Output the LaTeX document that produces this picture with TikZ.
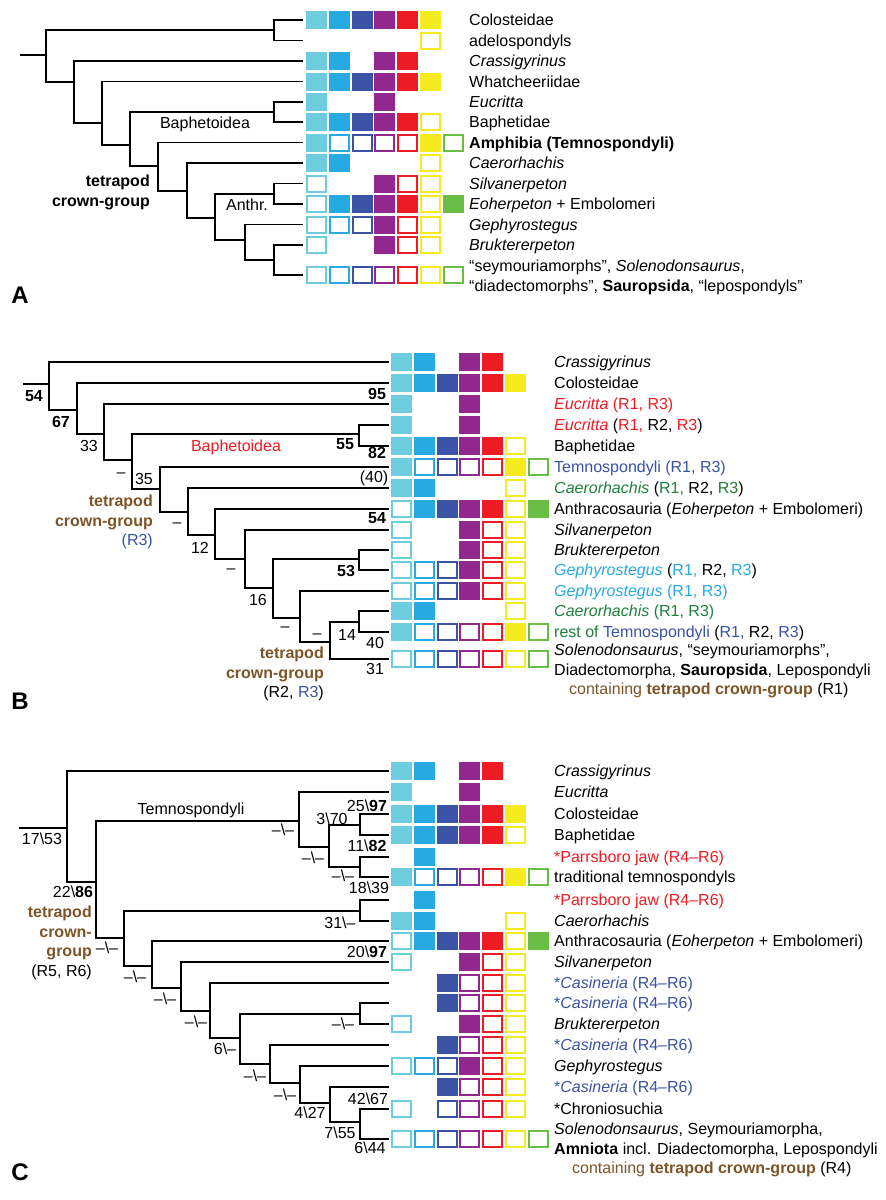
\documentclass[tikz,border=0pt]{standalone}
\usepackage{fontspec}
\setmainfont{Liberation Sans}

% character colours (columns of the matrix)
\definecolor{tr1}{HTML}{6DCCDD}
\definecolor{tr2}{HTML}{27AAE1}
\definecolor{tr3}{HTML}{3A53A4}
\definecolor{tr4}{HTML}{92278F}
\definecolor{tr5}{HTML}{ED1C24}
\definecolor{tr6}{HTML}{F5EB1E}
\definecolor{tr7}{HTML}{6ABD45}
% text colours
\definecolor{tred}{HTML}{ED1C24}
\definecolor{tblue}{HTML}{3A53A4}
\definecolor{tcyan}{HTML}{27AAE1}
\definecolor{tgreen}{HTML}{1F7F3D}
\definecolor{crown}{HTML}{7D5426}

\newcommand{\labfont}{\fontsize{16}{19.5}\selectfont}
\newcommand{\bsl}{\textbackslash}
\newcommand{\nosup}{--\textbackslash--}

% one row of the matrix: 0 = absent, 1 = filled, 2 = open
\newcommand{\traitrow}[3]{%
  \foreach \st [count=\ci] in {#3} {
    \ifnum\st=1 \fill[fill=tr\ci] ({#1+(\ci-1)*22.8},{#2-9}) rectangle ++(21,18);\fi
    \ifnum\st=2 \draw[draw=tr\ci, line width=2pt] ({#1+(\ci-1)*22.8+1},{#2-8}) rectangle ++(19,16);\fi
  }}

\begin{document}
\begin{tikzpicture}[
    x=1pt, y=-1pt,
    branch/.style={line width=1.7pt},
    taxon/.style={anchor=west, inner sep=0pt, font=\labfont, text height=11.4pt, text depth=0pt},
    multi/.style={anchor=north west, inner sep=0pt, font=\labfont, align=left},
    num/.style={inner sep=0pt, font=\labfont, text height=11.4pt, text depth=0pt},
    bnum/.style={num, font=\labfont\bfseries},
    clade/.style={anchor=north east, inner sep=0pt, font=\labfont\bfseries, text=crown, align=right},
    panel/.style={inner sep=0pt, font=\fontsize{24}{24}\selectfont\bfseries, text height=17.2pt, text depth=0pt}
]
\path[use as bounding box, fill=white] (0,0) rectangle (886,1200);

%%%%%%%%%%%%%%%% Panel A %%%%%%%%%%%%%%%%

% Tips
\foreach \t/\y in {aColo/20, aAdelo/40.5, aCrass/61, aWhat/81.5, aEucr/102, aBaph/122,
  aAmph/142.5, aCaer/163, aSilv/183.5, aEoh/204, aGeph/224.5, aBruk/245, aSeym/275}
  \coordinate (\t) at (303,\y);

% Internal nodes
\coordinate (aroot) at (20,55);
\coordinate (an1) at (46,55);
\coordinate (an2) at (274,30);
\coordinate (an3) at (74,82);
\coordinate (an4) at (102,123);
\coordinate (an5) at (130,145);
\coordinate (an6) at (274,112);
\coordinate (an7) at (158,166);
\coordinate (an8) at (187,191);
\coordinate (an9) at (215,218);
\coordinate (an10) at (274,194);
\coordinate (an11) at (245,240);
\coordinate (an12) at (274,260);

% Branches
\draw[branch] (aroot) -- (an1);
\draw[branch] (an1) |- (an2) (an1) |- (an3);
\draw[branch] (an2) |- (aColo) (an2) |- (aAdelo);
\draw[branch] (an3) |- (aCrass) (an3) |- (an4);
\draw[branch] (an4) |- (aWhat) (an4) |- (an5);
\draw[branch] (an5) |- (an6) (an5) |- (an7);
\draw[branch] (an6) |- (aEucr) (an6) |- (aBaph);
\draw[branch] (an7) |- (aAmph) (an7) |- (an8);
\draw[branch] (an8) |- (aCaer) (an8) |- (an9);
\draw[branch] (an9) |- (an10) (an9) |- (an11);
\draw[branch] (an10) |- (aSilv) (an10) |- (aEoh);
\draw[branch] (an11) |- (aGeph) (an11) |- (an12);
\draw[branch] (an12) |- (aBruk) (an12) |- (aSeym);

% Clade names
\node[num] (aBaphetoidea) at (205,123) {Baphetoidea};
\node[clade, text=black] (aCrown) at (150,175) {tetrapod\\crown-group};
\node[num] (aAnthr) at (247,205) {Anthr.};

% Matrix
\traitrow{306}{20}{1,1,1,1,1,1}
\traitrow{306}{40.5}{0,0,0,0,0,2}
\traitrow{306}{61}{1,1,0,1,1}
\traitrow{306}{81.5}{1,1,1,1,1,1}
\traitrow{306}{102}{1,0,0,1}
\traitrow{306}{122}{1,1,1,1,1,2}
\traitrow{306}{142.5}{1,2,2,2,2,1,2}
\traitrow{306}{163}{1,1,0,0,0,2}
\traitrow{306}{183.5}{2,0,0,1,2,2}
\traitrow{306}{204}{2,1,1,1,1,2,1}
\traitrow{306}{224.5}{2,2,2,1,2,2}
\traitrow{306}{245}{2,0,0,1,2,2}
\traitrow{306}{275}{2,2,2,2,2,2,2}

% Taxa
\node[taxon] (aColoL) at (469,20) {Colosteidae};
\node[taxon] (aAdeloL) at (469,40.5) {adelospondyls};
\node[taxon] (aCrassL) at (469,61) {\textit{Crassigyrinus}};
\node[taxon] (aWhatL) at (469,81.5) {Whatcheeriidae};
\node[taxon] (aEucrL) at (469,102) {\textit{Eucritta}};
\node[taxon] (aBaphL) at (469,122) {Baphetidae};
\node[taxon] (aAmphL) at (469,142.5) {\textbf{Amphibia (Temnospondyli)}};
\node[taxon] (aCaerL) at (469,163) {\textit{Caerorhachis}};
\node[taxon] (aSilvL) at (469,183.5) {\textit{Silvanerpeton}};
\node[taxon] (aEohL) at (469,204) {\textit{Eoherpeton} + Embolomeri};
\node[taxon] (aGephL) at (469,224.5) {\textit{Gephyrostegus}};
\node[taxon] (aBrukL) at (469,245) {\textit{Bruktererpeton}};
\node[multi] (aSeymL) at (469,260) {“seymouriamorphs”, \textit{Solenodonsaurus},\\“diadectomorphs”, \textbf{Sauropsida}, “lepospondyls”};

\node[panel] (aPanel) at (20,295) {A};

%%%%%%%%%%%%%%%% Panel B %%%%%%%%%%%%%%%%

% Tips
\foreach \t/\y in {bCrass/362, bColo/383, bEucrA/404, bEucrB/425, bBaph/446, bTemno/467,
  bCaerA/488, bAnth/509, bSilv/530, bBruk/550, bGephA/570, bGephB/591, bCaerB/611,
  bRest/632, bSolen/659}
  \coordinate (\t) at (389,\y);

% Internal nodes
\coordinate (broot) at (23,384);
\coordinate (bn1) at (49,384);
\coordinate (bn2) at (77,410);
\coordinate (bn3) at (104,434);
\coordinate (bn4) at (132,460);
\coordinate (bn5) at (359,434);
\coordinate (bn6) at (160,489);
\coordinate (bn7) at (188,512);
\coordinate (bn8) at (215,535);
\coordinate (bn9) at (245,559);
\coordinate (bn10) at (273,588);
\coordinate (bn11) at (359,559);
\coordinate (bn12) at (300,618);
\coordinate (bn13) at (330,642);
\coordinate (bn14) at (359,622);

% Branches
\draw[branch] (broot) -- (bn1);
\draw[branch] (bn1) |- (bCrass) (bn1) |- (bn2);
\draw[branch] (bn2) |- (bColo) (bn2) |- (bn3);
\draw[branch] (bn3) |- (bEucrA) (bn3) |- (bn4);
\draw[branch] (bn4) |- (bn5) (bn4) |- (bn6);
\draw[branch] (bn5) |- (bEucrB) (bn5) |- (bBaph);
\draw[branch] (bn6) |- (bTemno) (bn6) |- (bn7);
\draw[branch] (bn7) |- (bCaerA) (bn7) |- (bn8);
\draw[branch] (bn8) |- (bAnth) (bn8) |- (bn9);
\draw[branch] (bn9) |- (bSilv) (bn9) |- (bn10);
\draw[branch] (bn10) |- (bn11) (bn10) |- (bn12);
\draw[branch] (bn11) |- (bBruk) (bn11) |- (bGephA);
\draw[branch] (bn12) |- (bGephB) (bn12) |- (bn13);
\draw[branch] (bn13) |- (bn14) (bn13) |- (bSolen);
\draw[branch] (bn14) |- (bCaerB) (bn14) |- (bRest);

% Support values
\node[bnum] (bs1) at (34,396) {54};
\node[bnum] (bs2) at (61,422) {67};
\node[num] (bs3) at (89,446) {33};
\node[num] (bs4) at (121,472) {--};
\node[num] (bs5) at (144,479) {35};
\node[bnum] (bs6) at (377,394) {95};
\node[bnum] (bs7) at (345,444) {55};
\node[bnum] (bs8) at (377,453) {82};
\node[num] (bs9) at (374,477) {(40)};
\node[num] (bs10) at (177,522) {--};
\node[bnum] (bs11) at (377,518) {54};
\node[num] (bs12) at (200,548) {12};
\node[num] (bs13) at (231,568) {--};
\node[bnum] (bs14) at (346,571) {53};
\node[num] (bs15) at (258,600) {16};
\node[num] (bs16) at (285,626) {--};
\node[num] (bs17) at (317,633) {--};
\node[num] (bs18) at (347,635) {14};
\node[num] (bs19) at (375,643) {40};
\node[num] (bs20) at (375,669) {31};

% Clade names
\node[num, text=tred] (bBaphetoidea) at (236,446) {Baphetoidea};
\node[clade] (bCrownA) at (153,495) {tetrapod\\crown-group\\{\mdseries\color{tblue}(R3)}};
\node[clade] (bCrownB) at (324,647) {tetrapod\\crown-group\\{\mdseries\color{black}(R2, \textcolor{tblue}{R3})}};

% Matrix
\traitrow{391}{362}{1,1,0,1,1}
\traitrow{391}{383}{1,1,1,1,1,1}
\traitrow{391}{404}{1,0,0,1}
\traitrow{391}{425}{1,0,0,1}
\traitrow{391}{446}{1,1,1,1,1,2}
\traitrow{391}{467}{1,2,2,2,2,1,2}
\traitrow{391}{488}{1,1,0,0,0,2}
\traitrow{391}{509}{2,1,1,1,1,2,1}
\traitrow{391}{530}{2,0,0,1,2,2}
\traitrow{391}{550}{2,0,0,1,2,2}
\traitrow{391}{570}{2,2,2,1,2,2}
\traitrow{391}{591}{2,2,2,1,2,2}
\traitrow{391}{611}{1,1,0,0,0,2}
\traitrow{391}{632}{1,2,2,2,2,1,2}
\traitrow{391}{659}{2,2,2,2,2,2,2}

% Taxa
\node[taxon] (bCrassL) at (554,362) {\textit{Crassigyrinus}};
\node[taxon] (bColoL) at (554,383) {Colosteidae};
\node[taxon, text=tred] (bEucrAL) at (554,404) {\textit{Eucritta} (R1, R3)};
\node[taxon] (bEucrBL) at (554,425) {\textcolor{tred}{\textit{Eucritta}} (\textcolor{tred}{R1,} R2, \textcolor{tred}{R3})};
\node[taxon] (bBaphL) at (554,446) {Baphetidae};
\node[taxon, text=tblue] (bTemnoL) at (554,467) {Temnospondyli (R1, R3)};
\node[taxon] (bCaerAL) at (554,488) {\textcolor{tgreen}{\textit{Caerorhachis}} (\textcolor{tgreen}{R1,} R2, \textcolor{tgreen}{R3})};
\node[taxon] (bAnthL) at (554,509) {Anthracosauria (\textit{Eoherpeton} + Embolomeri)};
\node[taxon] (bSilvL) at (554,530) {\textit{Silvanerpeton}};
\node[taxon] (bBrukL) at (554,550) {\textit{Bruktererpeton}};
\node[taxon] (bGephAL) at (554,570) {\textcolor{tcyan}{\textit{Gephyrostegus}} (\textcolor{tcyan}{R1,} R2, \textcolor{tcyan}{R3})};
\node[taxon, text=tcyan] (bGephBL) at (554,591) {\textit{Gephyrostegus} (R1, R3)};
\node[taxon, text=tgreen] (bCaerBL) at (554,611) {\textit{Caerorhachis} (R1, R3)};
\node[taxon] (bRestL) at (554,632) {\textcolor{tgreen}{rest of} \textcolor{tblue}{Temnospondyli} (\textcolor{tblue}{R1,} R2, \textcolor{tblue}{R3})};
\node[multi] (bSolenL) at (554,644) {\textit{Solenodonsaurus}, “seymouriamorphs”,\\Diadectomorpha, \textbf{Sauropsida}, Lepospondyli\\\hspace*{15pt}\textcolor{crown}{containing \textbf{tetrapod crown-group}} (R1)};

\node[panel] (bPanel) at (20,701) {B};

%%%%%%%%%%%%%%%% Panel C %%%%%%%%%%%%%%%%

% Tips
\foreach \t/\y in {cCrass/771, cEucr/792, cColo/814, cBaph/835, cParrA/857, cTrad/877,
  cParrB/900, cCaer/921, cAnth/941, cSilv/962, cCasA/983, cCasB/1003, cBruk/1024,
  cCasC/1045, cGeph/1066, cCasD/1087, cChron/1109, cSolen/1139}
  \coordinate (\t) at (389,\y);

% Internal nodes
\coordinate (croot) at (19,828);
\coordinate (cn1) at (67,828);
\coordinate (cn2) at (96,882);
\coordinate (cn3) at (299,821);
\coordinate (cn4) at (124,938);
\coordinate (cn5) at (329,847);
\coordinate (cn6) at (360,825);
\coordinate (cn7) at (360,867);
\coordinate (cn8) at (360,911);
\coordinate (cn9) at (152,966);
\coordinate (cn10) at (181,988);
\coordinate (cn11) at (210,1011);
\coordinate (cn12) at (240,1038);
\coordinate (cn13) at (360,1014);
\coordinate (cn14) at (270,1064);
\coordinate (cn15) at (300,1083);
\coordinate (cn16) at (330,1103);
\coordinate (cn17) at (360,1122);

% Branches
\draw[branch] (croot) -- (cn1);
\draw[branch] (cn1) |- (cCrass) (cn1) |- (cn2);
\draw[branch] (cn2) |- (cn3) (cn2) |- (cn4);
\draw[branch] (cn3) |- (cEucr) (cn3) |- (cn5);
\draw[branch] (cn5) |- (cn6) (cn5) |- (cn7);
\draw[branch] (cn6) |- (cColo) (cn6) |- (cBaph);
\draw[branch] (cn7) |- (cParrA) (cn7) |- (cTrad);
\draw[branch] (cn4) |- (cn8) (cn4) |- (cn9);
\draw[branch] (cn8) |- (cParrB) (cn8) |- (cCaer);
\draw[branch] (cn9) |- (cAnth) (cn9) |- (cn10);
\draw[branch] (cn10) |- (cSilv) (cn10) |- (cn11);
\draw[branch] (cn11) |- (cCasA) (cn11) |- (cn12);
\draw[branch] (cn12) |- (cn13) (cn12) |- (cn14);
\draw[branch] (cn13) |- (cCasB) (cn13) |- (cBruk);
\draw[branch] (cn14) |- (cCasC) (cn14) |- (cn15);
\draw[branch] (cn15) |- (cGeph) (cn15) |- (cn16);
\draw[branch] (cn16) |- (cCasD) (cn16) |- (cn17);
\draw[branch] (cn17) |- (cChron) (cn17) |- (cSolen);

% Support values
\node[num] (cs1) at (42,839) {17\bsl 53};
\node[num] (cs2) at (73,892) {22\bsl\textbf{86}};
\node[num] (cs3) at (332,819) {3\bsl 70};
\node[num] (cs4) at (367,806) {25\bsl\textbf{97}};
\node[num] (cs5) at (367,846) {11\bsl\textbf{82}};
\node[num] (cs6) at (369,888) {18\bsl 39};
\node[num] (cs7) at (340,923) {31\bsl--};
\node[num] (cs8) at (367,952) {20\bsl\textbf{97}};
\node[num] (cs9) at (225,1049) {6\bsl--};
\node[num] (cs10) at (310,1113) {4\bsl 27};
\node[num] (cs11) at (368,1099) {42\bsl 67};
\node[num] (cs12) at (340,1133) {7\bsl 55};
\node[num] (cs13) at (370,1148) {6\bsl 44};
\foreach \m/\x/\y in {m1/283/830, m2/313/858, m3/343/876, m4/107/948, m5/135/977,
  m6/165/999, m7/196/1022, m8/343/1024, m9/255/1076, m10/285/1095}
  \node[num] (c\m) at (\x,\y) {\nosup};

% Clade names
\node[num] (cTemnospondyli) at (191,809) {Temnospondyli};
\node[clade] (cCrown) at (92,906) {tetrapod\\crown-\\group\\{\mdseries\color{black}(R5, R6)}};

% Matrix
\traitrow{391}{771}{1,1,0,1,1}
\traitrow{391}{792}{1,0,0,1}
\traitrow{391}{814}{1,1,1,1,1,1}
\traitrow{391}{835}{1,1,1,1,1,2}
\traitrow{391}{857}{0,1}
\traitrow{391}{877}{1,2,2,2,2,1,2}
\traitrow{391}{900}{0,1}
\traitrow{391}{921}{1,1,0,0,0,2}
\traitrow{391}{941}{2,1,1,1,1,2,1}
\traitrow{391}{962}{2,0,0,1,2,2}
\traitrow{391}{983}{0,0,1,2,2,2}
\traitrow{391}{1003}{0,0,1,2,2,2}
\traitrow{391}{1024}{2,0,0,1,2,2}
\traitrow{391}{1045}{0,0,1,2,2,2}
\traitrow{391}{1066}{2,2,2,1,2,2}
\traitrow{391}{1087}{0,0,1,2,2,2}
\traitrow{391}{1109}{2,0,2,2,2,2}
\traitrow{391}{1139}{2,2,2,2,2,2,2}

% Taxa
\node[taxon] (cCrassL) at (554,771) {\textit{Crassigyrinus}};
\node[taxon] (cEucrL) at (554,792) {\textit{Eucritta}};
\node[taxon] (cColoL) at (554,814) {Colosteidae};
\node[taxon] (cBaphL) at (554,835) {Baphetidae};
\node[taxon, text=tred] (cParrAL) at (554,857) {*Parrsboro jaw (R4--R6)};
\node[taxon] (cTradL) at (554,877) {traditional temnospondyls};
\node[taxon, text=tred] (cParrBL) at (554,900) {*Parrsboro jaw (R4--R6)};
\node[taxon] (cCaerL) at (554,921) {\textit{Caerorhachis}};
\node[taxon] (cAnthL) at (554,941) {Anthracosauria (\textit{Eoherpeton} + Embolomeri)};
\node[taxon] (cSilvL) at (554,962) {\textit{Silvanerpeton}};
\node[taxon, text=tblue] (cCasAL) at (554,983) {*\textit{Casineria} (R4--R6)};
\node[taxon, text=tblue] (cCasBL) at (554,1003) {*\textit{Casineria} (R4--R6)};
\node[taxon] (cBrukL) at (554,1024) {\textit{Bruktererpeton}};
\node[taxon, text=tblue] (cCasCL) at (554,1045) {*\textit{Casineria} (R4--R6)};
\node[taxon] (cGephL) at (554,1066) {\textit{Gephyrostegus}};
\node[taxon, text=tblue] (cCasDL) at (554,1087) {*\textit{Casineria} (R4--R6)};
\node[taxon] (cChronL) at (554,1109) {*Chroniosuchia};
\node[multi] (cSolenL) at (554,1123) {\textit{Solenodonsaurus}, Seymouriamorpha,\\\textbf{Amniota} incl. Diadectomorpha, Lepospondyli\\\hspace*{18pt}\textcolor{crown}{containing \textbf{tetrapod crown-group}} (R4)};

\node[panel] (cPanel) at (20,1172) {C};

\end{tikzpicture}
\end{document}
